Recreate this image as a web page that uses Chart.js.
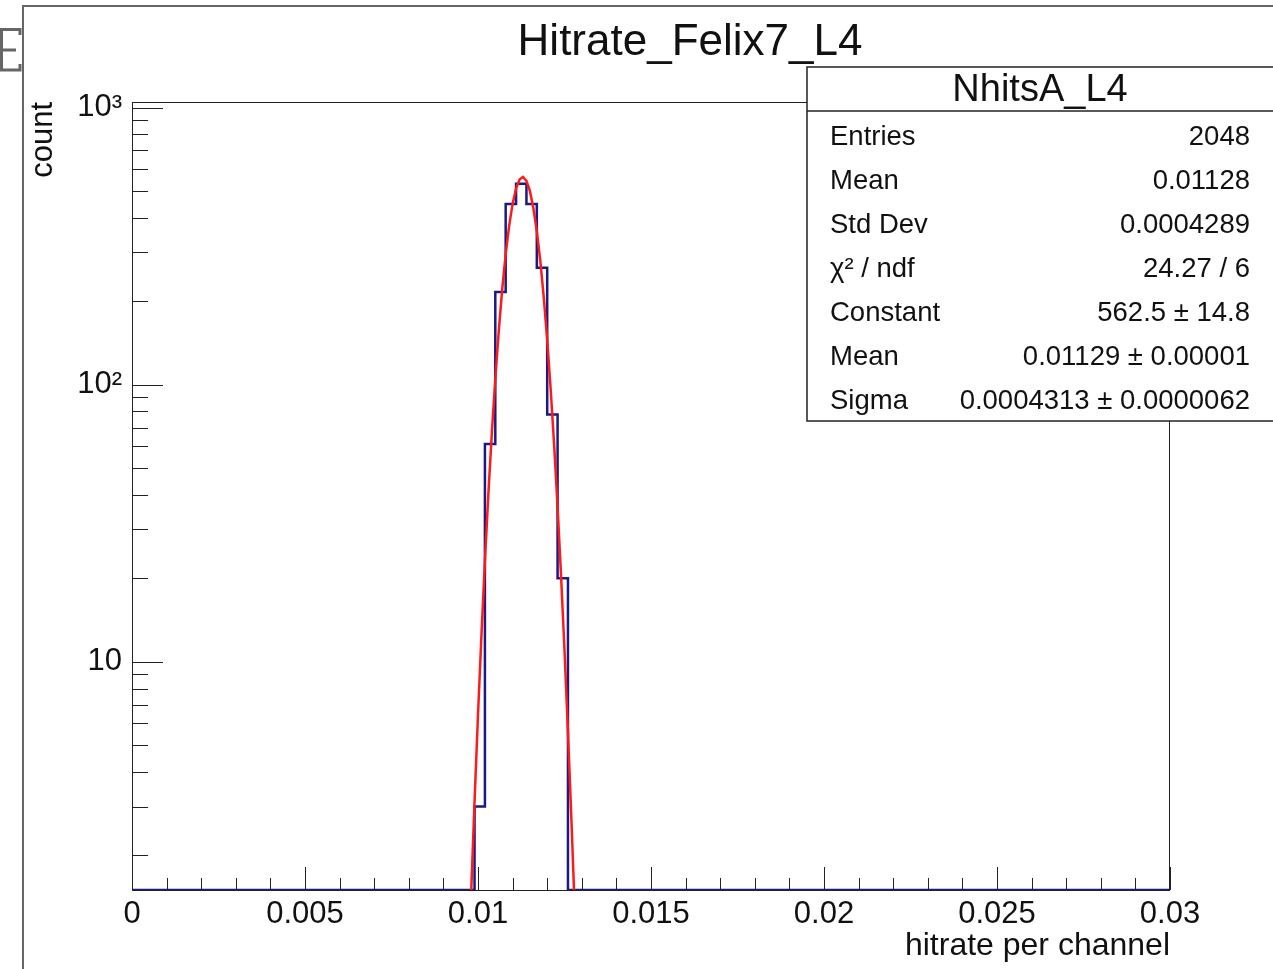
<!DOCTYPE html>
<html>
<head>
<meta charset="utf-8">
<title>Hitrate_Felix7_L4</title>
<script src="https://cdn.jsdelivr.net/npm/chart.js@4.4.1/dist/chart.umd.min.js"></script>
<style>
  html, body { margin: 0; padding: 0; background: #fff; }
  #wrap { width: 1273px; height: 969px; position: relative; }
</style>
</head>
<body>
<div id="wrap"><canvas id="c"></canvas></div>
<script>
// histogram NhitsA_L4: 100 bins on [0, 0.03], only bins 33..41 are filled
const nBins = 100;
const binLow = 0;
const binHigh = 0.03;
const firstFilledBin = 33;
const filledCounts = [3, 61, 216, 449, 531, 449, 264, 78, 20];

// gaus fit (red line)
const fitX = [0.0098, 0.0099, 0.0100, 0.0101, 0.0102, 0.0103, 0.0104, 0.0105, 0.0106, 0.0107,
              0.0108, 0.0109, 0.0110, 0.0111, 0.0112, 0.0113, 0.0114, 0.0115, 0.0116, 0.0117,
              0.0118, 0.0119, 0.0120, 0.0121, 0.0122, 0.0123, 0.0124, 0.0125, 0.0126, 0.0127, 0.0128];
const fitY = [1.44, 3.12, 6.42, 12.5, 23.1, 40.4, 66.9, 105, 156, 221,
              295, 374, 449, 510, 550, 562, 544, 500, 434, 358,
              280, 207, 145, 96.4, 60.7, 36.2, 20.5, 11.0, 5.58, 2.69, 1.23];

const xTickLabels = ['0', '0.005', '0.01', '0.015', '0.02', '0.025', '0.03'];
const xTickValues = [0, 0.005, 0.01, 0.015, 0.02, 0.025, 0.03];
const yTickValues = [10, 100, 1000];
const yTickLabels = ['10', '10\u00B2', '10\u00B3'];

const statsTitle = 'NhitsA_L4';
const statsNames = ['Entries', 'Mean', 'Std Dev', '\u03C7\u00B2 / ndf', 'Constant', 'Mean', 'Sigma'];
const statsValues = ['2048', '0.01128', '0.0004289', '24.27 / 6', '562.5 \u00B1 14.8',
                     '0.01129 \u00B1 0.00001', '0.0004313 \u00B1 0.0000062'];

const FONT = '"Liberation Sans", Arial, Helvetica, sans-serif';
const Y_MIN = 1.5, Y_MAX = 1047;

// build histogram step points (left edges + final right edge)
const counts = new Array(nBins).fill(0);
filledCounts.forEach((c, i) => { counts[firstFilledBin + i] = c; });
const binW = (binHigh - binLow) / nBins;
const histPoints = counts.map((c, i) => ({ x: binLow + i * binW, y: Math.max(c, Y_MIN) }));
histPoints.push({ x: binHigh, y: Math.max(counts[nBins - 1], Y_MIN) });
const fitPoints = fitX.map((x, i) => ({ x, y: fitY[i] }));

// ROOT-like frame with inward ticks
const rootFrame = {
  id: 'rootFrame',
  beforeDatasetsDraw(chart) {
    const { ctx, chartArea: a, scales: { x, y } } = chart;
    ctx.save();
    ctx.strokeStyle = '#222';
    ctx.lineWidth = 1;
    ctx.strokeRect(a.left + 0.5, a.top + 0.5, a.right - a.left - 1, a.bottom - a.top);
    ctx.beginPath();
    for (let i = 0; i <= 30; i++) {
      const px = Math.round(x.getPixelForValue(i * 0.001)) + 0.5;
      const len = i % 5 === 0 ? 23 : 12;
      ctx.moveTo(px, a.bottom);
      ctx.lineTo(px, a.bottom - len);
    }
    for (const d of [1, 10, 100, 1000]) {
      for (let m = 1; m <= 9; m++) {
        const v = m * d;
        if (v < Y_MIN || v > Y_MAX) continue;
        const py = Math.round(y.getPixelForValue(v)) + 0.5;
        const len = m === 1 ? 31 : 16;
        ctx.moveTo(a.left, py);
        ctx.lineTo(a.left + len, py);
      }
    }
    ctx.stroke();
    ctx.restore();
  },
  afterDraw(chart) {
    const { ctx, chartArea: a } = chart;
    ctx.save();
    // window edge
    ctx.strokeStyle = '#666';
    ctx.lineWidth = 2;
    ctx.beginPath();
    ctx.moveTo(23, 969); ctx.lineTo(23, 6); ctx.lineTo(1273, 6);
    ctx.stroke();
    ctx.lineWidth = 3;
    ctx.beginPath();
    ctx.moveTo(1.5, 28); ctx.lineTo(1.5, 71);
    ctx.moveTo(0, 29.5); ctx.lineTo(20, 29.5); ctx.lineTo(20, 35);
    ctx.moveTo(0, 50); ctx.lineTo(16, 50);
    ctx.moveTo(0, 70); ctx.lineTo(20, 70); ctx.lineTo(20, 64);
    ctx.stroke();

    ctx.fillStyle = '#111';
    // title
    ctx.font = '44px ' + FONT;
    ctx.textAlign = 'center';
    ctx.textBaseline = 'alphabetic';
    ctx.fillText('Hitrate_Felix7_L4', 690, 55);

    // axis titles
    ctx.font = '32px ' + FONT;
    ctx.textAlign = 'right';
    ctx.fillText('hitrate per channel', a.right, 955);
    ctx.font = '31px ' + FONT;
    ctx.save();
    ctx.translate(52, a.top);
    ctx.rotate(-Math.PI / 2);
    ctx.fillText('count', 0, 0);
    ctx.restore();

    // stats box
    const bx = 807, by = 67, bw = 480, bh = 354;
    ctx.fillStyle = '#fff';
    ctx.fillRect(bx, by, bw, bh);
    ctx.strokeStyle = '#222';
    ctx.lineWidth = 1.5;
    ctx.strokeRect(bx, by, bw, bh);
    ctx.beginPath();
    ctx.moveTo(bx, 111); ctx.lineTo(bx + bw, 111);
    ctx.stroke();
    ctx.fillStyle = '#111';
    ctx.font = '38px ' + FONT;
    ctx.textAlign = 'center';
    ctx.fillText(statsTitle, 1040, 101);
    ctx.font = '27.5px ' + FONT;
    statsNames.forEach((name, i) => {
      const yy = 145 + i * 44;
      ctx.textAlign = 'left';
      ctx.fillText(name, 830, yy);
      ctx.textAlign = 'right';
      ctx.fillText(statsValues[i], 1250, yy);
    });
    ctx.restore();
  }
};

Chart.defaults.font.family = FONT;
Chart.defaults.color = '#111';

new Chart(document.getElementById('c'), {
  type: 'line',
  data: {
    datasets: [
      {
        label: 'fit',
        data: fitPoints,
        borderColor: '#ff1a1a',
        borderWidth: 2.5,
        pointRadius: 0,
        fill: false,
        order: 0
      },
      {
        label: statsTitle,
        data: histPoints,
        stepped: true,
        borderColor: '#1a1a86',
        borderWidth: 2.5,
        pointRadius: 0,
        fill: false,
        order: 1
      }
    ]
  },
  options: {
    responsive: true,
    maintainAspectRatio: false,
    animation: false,
    layout: { padding: { top: 102, right: 103, bottom: 0, left: 0 } },
    plugins: { legend: { display: false }, tooltip: { enabled: false }, title: { display: false } },
    scales: {
      x: {
        type: 'linear',
        min: binLow,
        max: binHigh,
        grid: { display: false, drawTicks: false },
        border: { display: false },
        afterBuildTicks(s) { s.ticks = xTickValues.map(v => ({ value: v })); },
        ticks: {
          autoSkip: false,
          maxRotation: 0,
          padding: 6,
          color: '#111',
          font: { size: 31 },
          callback: (v, i) => xTickLabels[i]
        },
        afterFit(s) { s.height = 79; }
      },
      y: {
        type: 'logarithmic',
        min: Y_MIN,
        max: Y_MAX,
        grid: { display: false, drawTicks: false },
        border: { display: false },
        afterBuildTicks(s) { s.ticks = yTickValues.map(v => ({ value: v })); },
        ticks: {
          autoSkip: false,
          padding: 10,
          color: '#111',
          font: { size: 31 },
          callback: (v, i) => yTickLabels[i]
        },
        afterFit(s) { s.width = 132; }
      }
    }
  },
  plugins: [rootFrame]
});
</script>
</body>
</html>
